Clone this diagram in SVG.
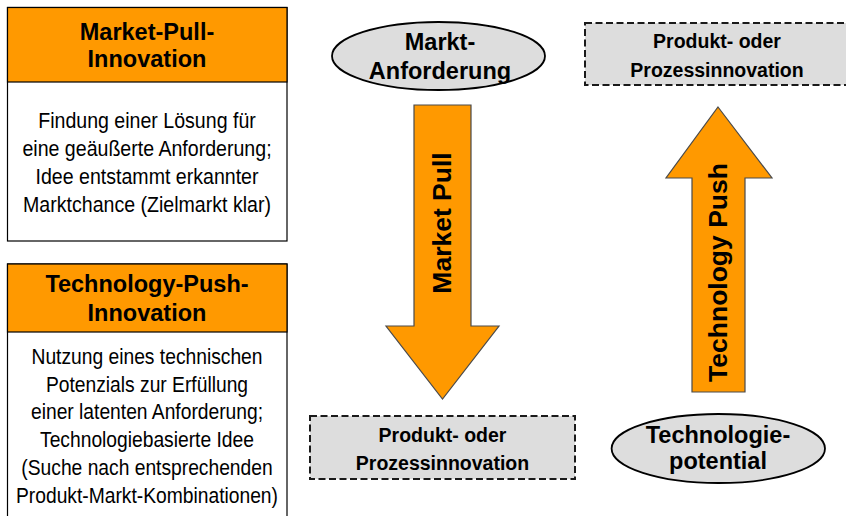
<svg xmlns="http://www.w3.org/2000/svg" width="846" height="516" viewBox="0 0 846 516">
  <style>
    .box { fill: #ffffff; stroke: #000000; stroke-width: 1.2; }
    .head { fill: #ff9900; stroke: #000000; stroke-width: 1.2; }
    .oval { fill: #dddddd; stroke: #000000; stroke-width: 1.8; }
    .dash { fill: #dddddd; stroke: #1a1a1a; stroke-width: 2; stroke-dasharray: 7 3.5; }
    .arrow { fill: #ff9900; stroke: #4a4a4a; stroke-width: 1.2; stroke-linejoin: miter; }
    .b { font-family: "Liberation Sans", Arial, sans-serif; font-weight: bold; fill: #000000; text-anchor: middle; }
    .r { font-family: "Liberation Sans", Arial, sans-serif; font-size: 22px; fill: #000000; text-anchor: middle; }
    .t23 { font-size: 23.5px; }
    .t19 { font-size: 19.5px; }
    .t26 { font-size: 26.5px; }
  </style>

  <!-- Market-Pull-Innovation card -->
  <g id="market-pull-card">
    <rect class="box" x="7.5" y="7.5" width="279.5" height="233.5"/>
    <rect class="head" x="7.5" y="7.5" width="279.5" height="74.5"/>
    <text class="b t23" x="147" y="39.5">Market-Pull-</text>
    <text class="b t23" x="147" y="67">Innovation</text>
    <g transform="translate(147 0) scale(0.89 1)">
      <text class="r" x="0" y="128.3">Findung einer Lösung für</text>
      <text class="r" x="0" y="156.5">eine geäußerte Anforderung;</text>
      <text class="r" x="0" y="184.5">Idee entstammt erkannter</text>
      <text class="r" x="0" y="212.5">Marktchance (Zielmarkt klar)</text>
    </g>
  </g>

  <!-- Technology-Push-Innovation card -->
  <g id="technology-push-card">
    <rect class="box" x="7.5" y="264" width="279.5" height="260"/>
    <rect class="head" x="7.5" y="264" width="279.5" height="68"/>
    <text class="b t23" x="147" y="291.5">Technology-Push-</text>
    <text class="b t23" x="147" y="321">Innovation</text>
    <g transform="translate(147 0) scale(0.875 1)">
      <text class="r" x="0" y="364.5">Nutzung eines technischen</text>
      <text class="r" x="0" y="392">Potenzials zur Erfüllung</text>
      <text class="r" x="0" y="419.5">einer latenten Anforderung;</text>
      <text class="r" x="0" y="447.5">Technologiebasierte Idee</text>
      <text class="r" x="0" y="475.3">(Suche nach entsprechenden</text>
      <text class="r" x="0" y="502.8">Produkt-Markt-Kombinationen)</text>
    </g>
  </g>

  <!-- Market requirement (start of the pull chain) -->
  <g id="markt-anforderung">
    <ellipse class="oval" cx="438.5" cy="56" rx="106.5" ry="34"/>
    <text class="b t23" x="440" y="50">Markt-</text>
    <text class="b t23" x="440" y="79">Anforderung</text>
  </g>

  <!-- Product/process innovation, result of the pull chain -->
  <g id="innovation-pull">
    <rect class="dash" x="310" y="416" width="265" height="63"/>
    <text class="b t19" x="442.5" y="441.7">Produkt- oder</text>
    <text class="b t19" x="442.5" y="470">Prozessinnovation</text>
  </g>

  <!-- Product/process innovation, result of the push chain -->
  <g id="innovation-push">
    <rect class="dash" x="585" y="23" width="270" height="62"/>
    <text class="b t19" x="717" y="48">Produkt- oder</text>
    <text class="b t19" x="717" y="77">Prozessinnovation</text>
  </g>

  <!-- Technology potential (start of the push chain) -->
  <g id="technologiepotential">
    <ellipse class="oval" cx="718.3" cy="448.5" rx="106.7" ry="34.5"/>
    <text class="b t23" x="718" y="443">Technologie-</text>
    <text class="b t23" x="718" y="469">potential</text>
  </g>

  <!-- Block arrows -->
  <g id="connectors">
    <g id="market-pull-arrow">
      <polygon class="arrow" points="414,105 471,105 471,326 499,326 442.5,399 386,326 414,326"/>
      <text class="b t26" transform="translate(451 223) rotate(-90)" x="0" y="0">Market Pull</text>
    </g>
    <g id="technology-push-arrow">
      <polygon class="arrow" points="718,107 772,178 745,178 745,392 692,392 692,178 666,178"/>
      <text class="b t26" transform="translate(727 272.5) rotate(-90)" x="0" y="0">Technology Push</text>
    </g>
  </g>
</svg>
